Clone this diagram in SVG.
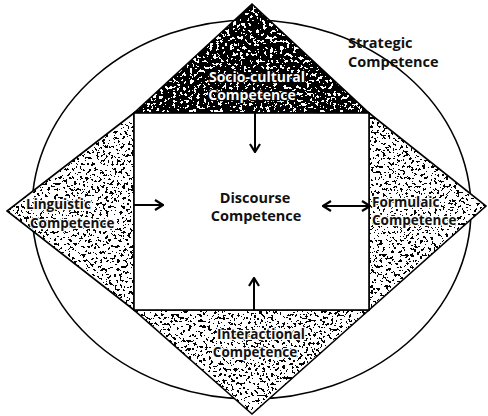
<svg xmlns="http://www.w3.org/2000/svg" width="488" height="416" viewBox="0 0 488 416">
<defs>
  <filter id="speckle" filterUnits="userSpaceOnUse" x="0" y="0" width="488" height="416">
    <feTurbulence type="fractalNoise" baseFrequency="0.35" numOctaves="3" seed="7" result="n"/>
    <feColorMatrix in="n" type="matrix" values="1 0 0 0 0  1 0 0 0 0  1 0 0 0 0  0 0 0 0 1" result="g"/>
    <feComponentTransfer in="g" result="t">
      <feFuncR type="discrete" tableValues="0 0 0 0 1 1 1 1 1 1"/>
      <feFuncG type="discrete" tableValues="0 0 0 0 1 1 1 1 1 1"/>
      <feFuncB type="discrete" tableValues="0 0 0 0 1 1 1 1 1 1"/>
    </feComponentTransfer>
    <feComposite in="t" in2="SourceGraphic" operator="in"/>
  </filter>
  <filter id="speckleDark" filterUnits="userSpaceOnUse" x="0" y="0" width="488" height="416">
    <feTurbulence type="fractalNoise" baseFrequency="0.3" numOctaves="3" seed="11" result="n"/>
    <feColorMatrix in="n" type="matrix" values="1 0 0 0 0  1 0 0 0 0  1 0 0 0 0  0 0 0 0 1" result="g"/>
    <feComponentTransfer in="g" result="t">
      <feFuncR type="discrete" tableValues="0 0 0 0 0 0 1 1 1 1"/>
      <feFuncG type="discrete" tableValues="0 0 0 0 0 0 1 1 1 1"/>
      <feFuncB type="discrete" tableValues="0 0 0 0 0 0 1 1 1 1"/>
    </feComponentTransfer>
    <feComposite in="t" in2="SourceGraphic" operator="in"/>
  </filter>
  <marker id="head" viewBox="0 0 10 12" refX="9" refY="6" markerWidth="10" markerHeight="12" markerUnits="userSpaceOnUse" orient="auto-start-reverse">
    <path d="M1,1 L9,6 L1,11" fill="none" stroke="#000" stroke-width="2.2" stroke-linejoin="miter"/>
  </marker>
  <style>
    .tri { fill: #000; }
    .edge { fill: none; stroke: #000; stroke-width: 1.6; stroke-linejoin: miter; }
    .lbl { font-family: "Open Sans", "Liberation Sans", sans-serif; font-weight: 700; font-size: 14.5px; fill: #111; }
    .hlbl { font-family: "Open Sans", "Liberation Sans", sans-serif; font-weight: 700; font-size: 13.5px; fill: #111; stroke: #fff; stroke-width: 2.5px; paint-order: stroke; stroke-linejoin: round; }
    .wlbl { font-family: "Open Sans", "Liberation Sans", sans-serif; font-weight: 700; font-size: 14px; fill: #fff; stroke: #000; stroke-width: 2.5px; paint-order: stroke; stroke-linejoin: round; }
    .conn { stroke: #000; stroke-width: 2; fill: none; }
  </style>
</defs>
<rect x="0" y="0" width="488" height="416" fill="#fff"/>

<g id="strategic">
  <ellipse cx="251.5" cy="209.5" rx="219.5" ry="189.5" fill="none" stroke="#000" stroke-width="1.6"/>
  <text class="lbl" x="348" y="48">Strategic</text>
  <text class="lbl" x="348" y="67">Competence</text>
</g>

<g id="socio-cultural">
  <polygon class="tri" filter="url(#speckleDark)" points="252,4 369,113 134,113"/>
  <polygon class="edge" points="252,4 369,113 134,113"/>
  <text class="wlbl" x="257" y="82" text-anchor="middle">Socio-cultural</text>
  <text class="wlbl" x="252" y="100" text-anchor="middle">Competence</text>
</g>

<g id="formulaic">
  <polygon class="tri" filter="url(#speckle)" points="369,113 486,206 369,310"/>
  <polygon class="edge" points="369,113 486,206 369,310"/>
  <text class="hlbl" x="372" y="207">Formulaic</text>
  <text class="hlbl" x="372" y="225">Competence</text>
</g>

<g id="interactional">
  <polygon class="tri" filter="url(#speckle)" points="369,310 252,414 134,310"/>
  <polygon class="edge" points="369,310 252,414 134,310"/>
  <text class="hlbl" x="261" y="339" text-anchor="middle">Interactional</text>
  <text class="hlbl" x="255" y="357" text-anchor="middle">Competence</text>
</g>

<g id="linguistic">
  <polygon class="tri" filter="url(#speckle)" points="134,310 7,211 134,113"/>
  <polygon class="edge" points="134,310 7,211 134,113"/>
  <text class="hlbl" x="26" y="209">Linguistic</text>
  <text class="hlbl" x="30" y="228">Competence</text>
</g>

<g id="discourse">
  <rect x="134" y="113" width="235" height="197" fill="#fff" stroke="#000" stroke-width="1.6"/>
  <text class="lbl" x="255" y="203" text-anchor="middle">Discourse</text>
  <text class="lbl" x="256" y="221" text-anchor="middle">Competence</text>
</g>

<g id="connectors">
  <line class="conn" x1="255" y1="113" x2="255" y2="152" marker-end="url(#head)"/>
  <line class="conn" x1="254" y1="310" x2="254" y2="278" marker-end="url(#head)"/>
  <line class="conn" x1="134" y1="205" x2="163" y2="205" marker-end="url(#head)"/>
  <line class="conn" x1="323" y1="206" x2="370" y2="206" marker-start="url(#head)" marker-end="url(#head)"/>
</g>
</svg>
